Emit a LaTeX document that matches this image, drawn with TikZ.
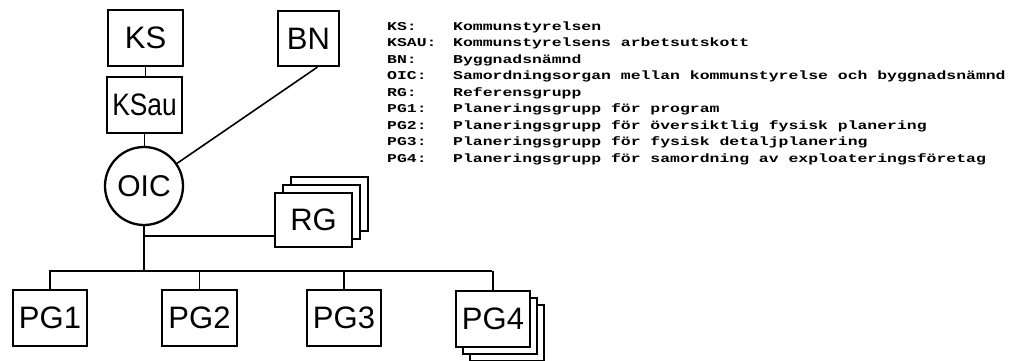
\documentclass[tikz,border=0pt]{standalone}
\usepackage{fontspec}
\setmainfont{Liberation Sans}
\newfontfamily\legendfont[FakeStretch=1.37]{Liberation Mono}
\usetikzlibrary{calc}
\begin{document}
\begin{tikzpicture}[x=1pt,y=-1pt,
  box/.style={draw,line width=2.3pt,fill=white,inner sep=0pt,minimum height=56pt,
    font=\fontsize{31pt}{31pt}\selectfont},
  conn/.style={line width=1.6pt},
  legend/.style={font=\legendfont\bfseries\fontsize{12pt}{12pt}\selectfont,inner sep=0pt,anchor=base west}]
\fill[white] (0,0) rectangle (1019,360);
\useasboundingbox (0,0) rectangle (1019,360);
% upper boxes
\node[box,minimum width=75pt] (KS) at (145.5,38) {KS};
\node[box,minimum width=75pt] (KSau) at (144.5,105) {\scalebox{0.85}[1]{KSau}};
\node[box,minimum width=61pt,minimum height=55pt] (BN) at (308.5,38.5) {BN};
\node[circle,draw,line width=2.3pt,fill=white,minimum size=78pt,inner sep=0pt,
  font=\fontsize{30pt}{30pt}\selectfont] (OIC) at (144,186) {OIC};
% RG stack
\node[box,minimum width=77pt,minimum height=54pt] (RGc) at (329.5,204) {};
\node[box,minimum width=77pt,minimum height=54pt] (RGb) at (321.5,212) {};
\node[box,minimum width=77pt,minimum height=54pt] (RG) at (313.5,220) {RG};
% PG boxes
\node[box,minimum width=74pt] (PG1) at (50,318) {PG1};
\node[box,minimum width=75pt] (PG2) at (199.5,318) {PG2};
\node[box,minimum width=74pt] (PG3) at (344,318) {PG3};
\node[box,minimum width=74pt] (PG4c) at (507,333) {};
\node[box,minimum width=74pt] (PG4b) at (500,326) {};
\node[box,minimum width=74pt] (PG4) at (493,319) {PG4};
% connectors
\coordinate (busL) at (49,271);
\coordinate (busR) at (492,271);
\coordinate (bnfoot) at ($(BN.south west)!0.64!(BN.south east)$);
\coordinate (rgj) at (144,236);
\draw[conn] (KS.south) -- (KS.south |- KSau.north);
\draw[conn] (KSau.south) -- (KSau.south |- OIC.north);
\draw[conn] (bnfoot) -- (OIC);
\draw[conn] (OIC.south) -- (OIC.south |- busL);
\draw[conn] (rgj) -- (rgj -| RG.west);
\draw[conn] (busL) -- (busR);
\draw[conn] (PG1.north) -- (PG1.north |- busL);
\draw[conn] (PG2.north) -- (PG2.north |- busL);
\draw[conn] (PG3.north) -- (PG3.north |- busL);
\draw[conn] (PG4.north) -- (PG4.north |- busR);
% legend
\foreach \i/\a/\d in {0/KS:/Kommunstyrelsen,
  1/KSAU:/Kommunstyrelsens arbetsutskott,
  2/BN:/Byggnadsnämnd,
  3/OIC:/Samordningsorgan mellan kommunstyrelse och byggnadsnämnd,
  4/RG:/Referensgrupp,
  5/PG1:/Planeringsgrupp för program,
  6/PG2:/Planeringsgrupp för översiktlig fysisk planering,
  7/PG3:/Planeringsgrupp för fysisk detaljplanering,
  8/PG4:/Planeringsgrupp för samordning av exploateringsföretag}{
  \node[legend] (la\i) at (387,{30+16.5*\i}) {\a};
  \node[legend] (ld\i) at (453,{30+16.5*\i}) {\d};
}
\end{tikzpicture}
\end{document}
